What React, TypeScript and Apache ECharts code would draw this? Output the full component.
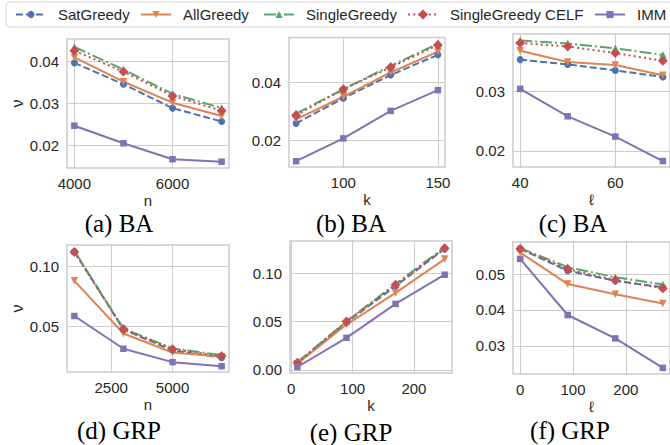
import React, { useEffect, useRef } from 'react';
import * as echarts from 'echarts';

const methods = ['SatGreedy', 'AllGreedy', 'SingleGreedy', 'SingleGreedy CELF', 'IMM'];

// x values per panel
const xA = [4000, 5000, 6000, 7000];
const xB = [75, 100, 125, 150];
const xC = [40, 50, 60, 70];
const xD = [1000, 3000, 5000, 7000];
const xE = [10, 90, 170, 250];
const xF = [0, 90, 180, 270];

// (a) BA, varying n
const aSat = [0.0397, 0.0346, 0.0289, 0.0257];
const aAll = [0.0410, 0.0352, 0.0302, 0.0270];
const aSingle = [0.0435, 0.0381, 0.0323, 0.0289];
const aCelf = [0.0426, 0.0376, 0.0318, 0.0283];
const aImm = [0.0247, 0.0205, 0.0167, 0.0161];

// (b) BA, varying k
const bSat = [0.0258, 0.0345, 0.0425, 0.0495];
const bAll = [0.0272, 0.0350, 0.0434, 0.0506];
const bSingle = [0.0292, 0.0376, 0.0457, 0.0533];
const bCelf = [0.0286, 0.0376, 0.0452, 0.0529];
const bImm = [0.0127, 0.0206, 0.0301, 0.0373];

// (c) BA, varying l
const cSat = [0.0353, 0.0345, 0.0335, 0.0324];
const cAll = [0.0368, 0.0349, 0.0344, 0.0327];
const cSingle = [0.0385, 0.0380, 0.0372, 0.0361];
const cCelf = [0.0381, 0.0375, 0.0364, 0.0351];
const cImm = [0.0304, 0.0258, 0.0224, 0.0183];

// (d) GRP, varying n
const dSat = [0.1125, 0.0478, 0.0303, 0.0242];
const dAll = [0.0881, 0.0444, 0.0286, 0.0250];
const dSingle = [0.1131, 0.0485, 0.0320, 0.0264];
const dCelf = [0.1120, 0.0481, 0.0314, 0.0256];
const dImm = [0.0589, 0.0317, 0.0206, 0.0172];

// (e) GRP, varying k
const eSat = [0.0072, 0.0490, 0.0866, 0.1250];
const eAll = [0.0065, 0.0469, 0.0795, 0.1144];
const eSingle = [0.0079, 0.0503, 0.0887, 0.1267];
const eCelf = [0.0075, 0.0500, 0.0880, 0.1257];
const eImm = [0.0031, 0.0332, 0.0682, 0.0983];

// (f) GRP, varying l
const fSat = [0.0570, 0.0509, 0.0481, 0.0463];
const fAll = [0.0560, 0.0472, 0.0444, 0.0418];
const fSingle = [0.0572, 0.0519, 0.0491, 0.0471];
const fCelf = [0.0570, 0.0514, 0.0483, 0.0460];
const fImm = [0.0542, 0.0386, 0.0321, 0.0239];

// tick labels
const xTicksA = [4000, 6000];
const xTicksB = [100, 150];
const xTicksC = [40, 60];
const xTicksD = [2500, 5000];
const xTicksE = [0, 100, 200];
const xTicksF = [0, 100, 200];
const yTicksA = [0.02, 0.03, 0.04];
const yTicksB = [0.02, 0.04];
const yTicksC = [0.02, 0.03];
const yTicksD = [0.05, 0.10];
const yTicksE = [0.0, 0.05, 0.10];
const yTicksF = [0.03, 0.04, 0.05];

const captions = ['(a) BA', '(b) BA', '(c) BA', '(d) GRP', '(e) GRP', '(f) GRP'];
const xNames = ['n', 'k', 'ℓ', 'n', 'k', 'ℓ'];

const panels = [
  { x: xA, ys: [aSat, aAll, aSingle, aCelf, aImm], xt: xTicksA, yt: yTicksA, xr: [3850, 7150], yr: [0.0146, 0.0454], g: [67, 39, 162, 129], cap: [119, 223], yName: true },
  { x: xB, ys: [bSat, bAll, bSingle, bCelf, bImm], xt: xTicksB, yt: yTicksB, xr: [71.25, 153.75], yr: [0.0107, 0.0555], g: [289, 37.5, 156, 129.5], cap: [351, 223], yName: false },
  { x: xC, ys: [cSat, cAll, cSingle, cCelf, cImm], xt: xTicksC, yt: yTicksC, xr: [38.5, 71.5], yr: [0.0173, 0.0396], g: [513, 34, 159, 133], cap: [573, 223], yName: false },
  { x: xD, ys: [dSat, dAll, dSingle, dCelf, dImm], xt: xTicksD, yt: yTicksD, xr: [700, 7300], yr: [0.0124, 0.1179], g: [67, 245, 162, 127], cap: [119, 430], yName: true },
  { x: xE, ys: [eSat, eAll, eSingle, eCelf, eImm], xt: xTicksE, yt: yTicksE, xr: [-2, 262], yr: [-0.0031, 0.1331], g: [290, 241, 162, 132], cap: [351, 432], yName: false },
  { x: xF, ys: [fSat, fAll, fSingle, fCelf, fImm], xt: xTicksF, yt: yTicksF, xr: [-13.5, 283.5], yr: [0.0222, 0.0589], g: [513, 242, 159, 132], cap: [570, 430], yName: false },
];

const styles: any[] = [
  { color: '#4C72B0', type: [7, 3], symbol: 'circle', rotate: 0, size: 7 },
  { color: '#DD8452', type: 'solid', symbol: 'triangle', rotate: 180, size: 7.5 },
  { color: '#55A868', type: [12, 3, 2, 3], symbol: 'triangle', rotate: 0, size: 7.5 },
  { color: '#C44E52', type: [2, 3.2], symbol: 'rect', rotate: 45, size: 7 },
  { color: '#8172B3', type: 'solid', symbol: 'rect', rotate: 0, size: 6.5 },
];

const legendLeft = [15, 140, 263, 407, 594];

const SANS = '"Liberation Sans", Arial, sans-serif';
const TXT = '#262626';
const FS = 15;

export default function App() {
  const ref = useRef<HTMLDivElement>(null);
  useEffect(() => {
    if (!ref.current) return;
    const chart = echarts.init(ref.current, undefined, { renderer: 'svg' });
    const grid: any[] = [];
    const xAxis: any[] = [];
    const yAxis: any[] = [];
    const series: any[] = [];
    const graphic: any[] = [
      {
        type: 'rect',
        shape: { x: 6, y: 2, width: 700, height: 25, r: 4 },
        style: { fill: '#ffffff', stroke: '#d5d5d5', lineWidth: 1 },
        z: 0,
      },
    ];
    panels.forEach((p, i) => {
      grid.push({
        left: p.g[0], top: p.g[1], width: p.g[2], height: p.g[3],
        show: true, borderColor: '#cccccc', borderWidth: 1.5, backgroundColor: '#ffffff',
      });
      xAxis.push({
        type: 'value', gridIndex: i, min: p.xr[0], max: p.xr[1],
        name: xNames[i], nameLocation: 'middle', nameGap: 25,
        nameTextStyle: { fontSize: FS, lineHeight: 15, color: TXT, fontFamily: SANS },
        axisLine: { show: false },
        axisTick: { show: false, customValues: p.xt },
        axisLabel: { customValues: p.xt, fontSize: FS, color: TXT, fontFamily: SANS, margin: 8, formatter: (v: number) => String(v) },
        splitLine: { show: true, lineStyle: { color: '#cccccc', width: 1 } },
      });
      yAxis.push({
        type: 'value', gridIndex: i, min: p.yr[0], max: p.yr[1],
        name: p.yName ? 'ν' : '', nameLocation: 'middle', nameGap: 42, nameRotate: 90,
        nameTextStyle: { fontSize: 16, color: TXT, fontFamily: SANS },
        axisLine: { show: false },
        axisTick: { show: false, customValues: p.yt },
        axisLabel: { customValues: p.yt, fontSize: FS, color: TXT, fontFamily: SANS, margin: 8, formatter: (v: number) => v.toFixed(2) },
        splitLine: { show: true, lineStyle: { color: '#cccccc', width: 1 } },
      });
      methods.forEach((m, j) => {
        const s = styles[j];
        series.push({
          name: m, type: 'line', xAxisIndex: i, yAxisIndex: i,
          data: p.x.map((xv, k) => [xv, p.ys[j][k]]),
          symbol: s.symbol, symbolSize: s.size, symbolRotate: s.rotate, showSymbol: true,
          lineStyle: { color: s.color, width: 2, type: s.type },
          itemStyle: { color: s.color },
          emphasis: { disabled: true },
        });
      });
      graphic.push({
        type: 'text', x: p.cap[0], y: p.cap[1],
        style: { text: captions[i], fontSize: 25, lineHeight: 22, fontFamily: '"Liberation Serif", "Times New Roman", serif', fill: '#000000', align: 'center', verticalAlign: 'middle' },
      });
    });
    const legend = methods.map((m, i) => ({
      data: [m], left: legendLeft[i], top: 7, padding: 0,
      itemWidth: 30, itemHeight: 9, selectedMode: false,
      formatter: (name: string) => '{sp| }' + name,
      textStyle: { fontSize: FS, color: TXT, fontFamily: SANS, rich: { sp: { width: 7, fontSize: FS } } },
    }));
    chart.setOption({
      animation: false,
      backgroundColor: '#ffffff',
      grid, xAxis, yAxis, series, legend, graphic,
    });
    return () => chart.dispose();
  }, []);
  return <div ref={ref} style={{ position: 'absolute', left: 0, top: 0, width: 670, height: 445 }} />;
}
